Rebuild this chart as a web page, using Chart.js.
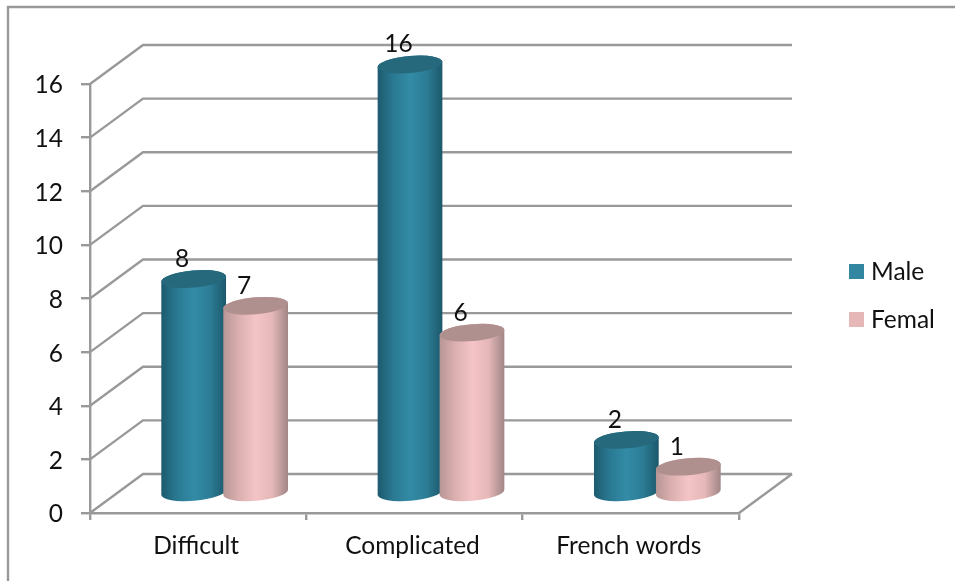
<!DOCTYPE html>
<html>
<head>
<meta charset="utf-8">
<title>Male / Femal</title>
<script src="https://cdn.jsdelivr.net/npm/chart.js@4"></script>
<style>
    html, body { margin: 0; padding: 0; background: #fff; }
    canvas { display: block; }
</style>
</head>
<body>
<canvas id="cylinder-chart" width="955" height="581"></canvas>
<script>
const categories = ['Difficult', 'Complicated', 'French words'];
const maleValues = [8, 16, 2];
const femalValues = [7, 6, 1];

const FONT = 'Lato, Carlito, sans-serif';
const FONT_SIZE = 24.5;
const TEXT_COLOR = '#111';
const LINE_COLOR = '#999999';
const LINE_WIDTH = 2.4;

// Offset of the back wall from the front of the floor
const DEPTH_X = 53;
const DEPTH_Y = 39;

const SHADES = {
    Male: {
        swatch: '#33869f',
        cap: '#26687c',
        body: ['#1d5a6e', '#2a7a93', '#338ba6', '#2c7d96', '#1c586b']
    },
    Femal: {
        swatch: '#e6b7b7',
        cap: '#b08f8f',
        body: ['#b89696', '#dcb0b0', '#f4c4c6', '#e6b8b9', '#a08585']
    }
};

// Walls and floor, projected back from the value axis ticks
const wallsPlugin = {
    id: 'walls',
    beforeDraw(chart) {
        const ctx = chart.ctx;
        ctx.save();
        ctx.strokeStyle = LINE_COLOR;
        ctx.lineWidth = LINE_WIDTH;
        ctx.beginPath();
        ctx.moveTo(8, chart.height);
        ctx.lineTo(8, 7);
        ctx.lineTo(chart.width, 7);
        ctx.stroke();
        ctx.restore();
    },
    beforeDatasetsDraw(chart) {
        const { ctx, chartArea, scales } = chart;
        ctx.save();
        ctx.strokeStyle = LINE_COLOR;
        ctx.lineWidth = LINE_WIDTH;
        scales.y.ticks.forEach((tick) => {
            const y = scales.y.getPixelForValue(tick.value);
            ctx.beginPath();
            ctx.moveTo(chartArea.left, y);
            ctx.lineTo(chartArea.left + DEPTH_X, y - DEPTH_Y);
            ctx.lineTo(chartArea.right + DEPTH_X, y - DEPTH_Y);
            ctx.stroke();
        });
        ctx.beginPath();
        ctx.moveTo(chartArea.right, chartArea.bottom);
        ctx.lineTo(chartArea.right + DEPTH_X, chartArea.bottom - DEPTH_Y);
        ctx.stroke();
        ctx.restore();
    }
};

function drawCylinder(ctx, bar, shades) {
    const rot = -0.085;
    const ry = 8.5;
    const { x, y, base, width } = bar.getProps(['x', 'y', 'base', 'width'], true);
    const cx = x + DEPTH_X / 2;
    const top = y - DEPTH_Y / 2;
    const bottom = base - DEPTH_Y / 2;
    const rx = width / 2;

    const fill = ctx.createLinearGradient(cx - rx, 0, cx + rx, 0);
    shades.body.forEach((color, i) => {
        fill.addColorStop(i / (shades.body.length - 1), color);
    });

    ctx.beginPath();
    ctx.ellipse(cx, bottom, rx, ry, rot, 0, Math.PI);
    ctx.ellipse(cx, top, rx, ry, rot, Math.PI, Math.PI * 2);
    ctx.closePath();
    ctx.fillStyle = fill;
    ctx.fill();

    ctx.beginPath();
    ctx.ellipse(cx, top, rx, ry, rot, 0, Math.PI * 2);
    ctx.fillStyle = shades.cap;
    ctx.fill();
}

// Paints the bar elements as cylinders standing halfway into the floor,
// first series first so the second one overlaps it
const cylinderPlugin = {
    id: 'cylinders',
    beforeDatasetsDraw(chart) {
        chart.data.datasets.forEach((dataset, d) => {
            chart.getDatasetMeta(d).data.forEach((bar) => {
                drawCylinder(chart.ctx, bar, SHADES[dataset.label]);
            });
        });
    },
    beforeDatasetDraw() {
        return false;
    },
    afterDatasetsDraw(chart) {
        const ctx = chart.ctx;
        ctx.save();
        ctx.font = `${FONT_SIZE}px ${FONT}`;
        ctx.fillStyle = TEXT_COLOR;
        ctx.textAlign = 'center';
        ctx.textBaseline = 'middle';
        chart.data.datasets.forEach((dataset, d) => {
            chart.getDatasetMeta(d).data.forEach((bar, i) => {
                const { x, y } = bar.getProps(['x', 'y'], true);
                ctx.fillText(dataset.data[i], x + DEPTH_X / 2 - 11.5, y - DEPTH_Y / 2 - 20);
            });
        });
        ctx.restore();
    }
};

// Legend to the right of the floor, one swatch per series
const sideLegendPlugin = {
    id: 'sideLegend',
    afterDraw(chart) {
        const ctx = chart.ctx;
        ctx.save();
        ctx.font = `${FONT_SIZE}px ${FONT}`;
        ctx.textBaseline = 'middle';
        chart.data.datasets.forEach((dataset, d) => {
            const rowY = 271.5 + d * 48;
            ctx.fillStyle = dataset.backgroundColor;
            ctx.fillRect(849, rowY - 7.5, 15, 15);
            ctx.fillStyle = TEXT_COLOR;
            ctx.fillText(dataset.label, 871, rowY + 1);
        });
        ctx.restore();
    }
};

new Chart(document.getElementById('cylinder-chart').getContext('2d'), {
    type: 'bar',
    data: {
        labels: categories,
        datasets: [
            { label: 'Male', data: maleValues, backgroundColor: SHADES.Male.swatch },
            { label: 'Femal', data: femalValues, backgroundColor: SHADES.Femal.swatch }
        ]
    },
    options: {
        responsive: false,
        animation: false,
        barPercentage: 1.048,
        categoryPercentage: 0.573,
        layout: {
            autoPadding: false,
            padding: { top: 84, right: 216, bottom: 0, left: 0 }
        },
        plugins: {
            legend: { display: false },
            tooltip: { enabled: false }
        },
        scales: {
            x: {
                afterFit(scale) { scale.height = 68; },
                grid: { color: LINE_COLOR, lineWidth: LINE_WIDTH, tickLength: 7, drawOnChartArea: false },
                border: { color: LINE_COLOR, width: LINE_WIDTH },
                ticks: {
                    color: TEXT_COLOR,
                    padding: 11,
                    labelOffset: -2,
                    maxRotation: 0,
                    font: { family: FONT, size: FONT_SIZE }
                }
            },
            y: {
                min: 0,
                max: 16,
                afterFit(scale) { scale.width = 90; },
                grid: { color: LINE_COLOR, lineWidth: LINE_WIDTH, tickLength: 9, drawOnChartArea: false },
                border: { color: LINE_COLOR, width: LINE_WIDTH },
                ticks: {
                    stepSize: 2,
                    color: TEXT_COLOR,
                    padding: 18,
                    labelOffset: 1.5,
                    font: { family: FONT, size: FONT_SIZE }
                }
            }
        }
    },
    plugins: [wallsPlugin, cylinderPlugin, sideLegendPlugin]
});
</script>
</body>
</html>
